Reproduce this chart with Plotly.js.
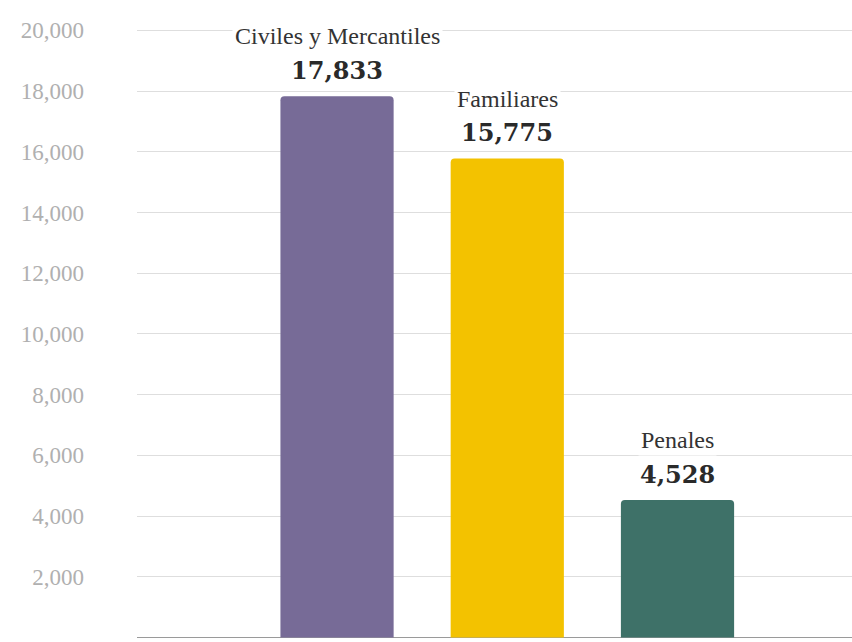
<!DOCTYPE html>
<html>
<head>
<meta charset="utf-8">
<script src="https://cdn.plot.ly/plotly-3.0.1.min.js"></script>
<style>html,body{margin:0;padding:0;background:#fff;}#chart{width:852px;height:642px;}</style>
</head>
<body>
<div id="chart"></div>
<script>
const categories = ["Civiles y Mercantiles", "Familiares", "Penales"];
const values = [17833, 15775, 4528];
const valueLabels = ["17,833", "15,775", "4,528"];
const barColors = ["#776b97", "#f3c200", "#3e7168"];
const tickValues = [2000, 4000, 6000, 8000, 10000, 12000, 14000, 16000, 18000, 20000];
const tickLabels = ["2,000", "4,000", "6,000", "8,000", "10,000", "12,000", "14,000", "16,000", "18,000", "20,000"];

const trace = {
  type: "bar",
  x: categories,
  y: values,
  width: 0.665,
  marker: { color: barColors, line: { width: 0 } },
  hoverinfo: "skip"
};

const annotations = [];
categories.forEach((c, i) => {
  annotations.push({
    x: c, y: values[i], xref: "x", yref: "y",
    text: c, showarrow: false, yanchor: "middle", yshift: 60,
    bgcolor: "#ffffff", borderpad: 2,
    font: { family: "Liberation Serif", size: 24, color: "#333333" }
  });
  annotations.push({
    x: c, y: values[i], xref: "x", yref: "y",
    text: "<b>" + valueLabels[i] + "</b>", showarrow: false, yanchor: "middle", yshift: 26,
    font: { family: "DejaVu Serif", size: 24, color: "#2a2a2a" }
  });
});

const layout = {
  width: 852, height: 642,
  margin: { l: 137, r: 0, t: 0, b: 0, pad: 0 },
  paper_bgcolor: "#ffffff", plot_bgcolor: "#ffffff",
  showlegend: false,
  barcornerradius: 4,
  xaxis: {
    type: "category",
    range: [-1.175, 3.025],
    showticklabels: false, showgrid: false, zeroline: false, showline: false, ticks: ""
  },
  yaxis: {
    range: [-150, 21000],
    tickmode: "array", tickvals: tickValues, ticktext: tickLabels,
    ticklabelstandoff: 52,
    tickfont: { family: "Liberation Serif", size: 23, color: "#b0b0b0" },
    showgrid: true, gridcolor: "#dedede", gridwidth: 1,
    zeroline: true, zerolinecolor: "#9a9a9a", zerolinewidth: 1,
    showline: false, ticks: ""
  },
  annotations: annotations
};

Plotly.newPlot("chart", [trace], layout, { displayModeBar: false, staticPlot: true });
</script>
</body>
</html>
